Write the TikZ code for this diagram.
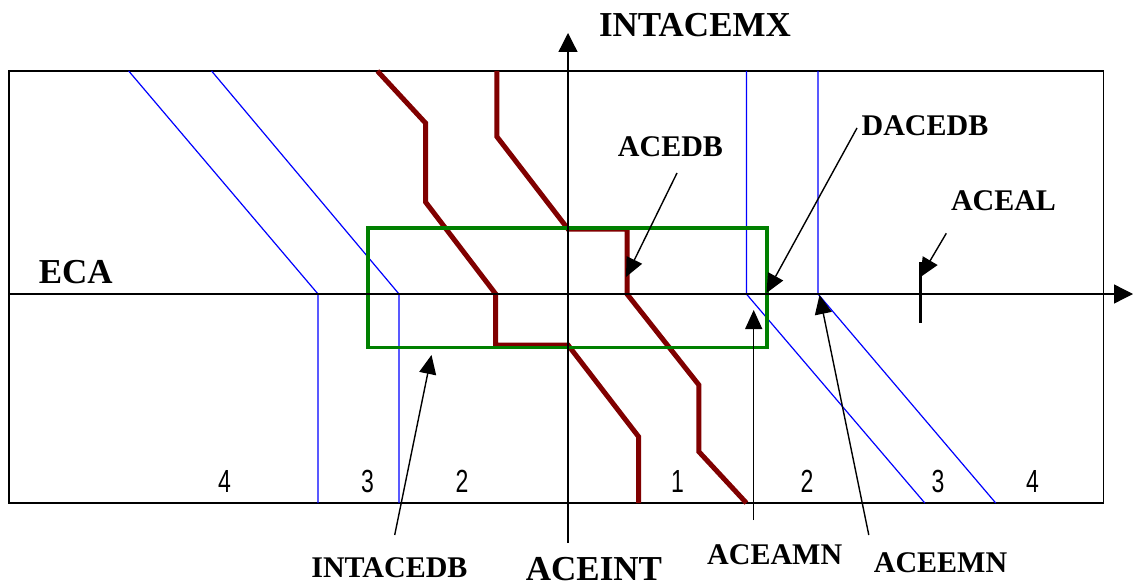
\documentclass[tikz,border=0pt]{standalone}
\usepackage{fontspec}
\setmainfont{Liberation Serif}
\newfontfamily\digitfont{Liberation Sans}
\usetikzlibrary{arrows.meta}
\definecolor{limitred}{RGB}{128,0,0}
\definecolor{boxgreen}{RGB}{0,128,0}
\begin{document}
\begin{tikzpicture}[x=1pt,y=-1pt,
  lab/.style={inner sep=0pt, font=\fontsize{30}{36}\selectfont\bfseries},
  biglab/.style={inner sep=0pt, font=\fontsize{35}{42}\selectfont\bfseries},
  num/.style={inner sep=0pt, font=\digitfont\fontsize{32}{38}\selectfont},
  ptr/.style={line width=1.4pt, -{Triangle[length=19pt,width=17pt]}},
  axisline/.style={line width=1.3pt, -{Triangle[length=19pt,width=19pt]}},
  frameline/.style={line width=1.9pt},
  zone/.style={draw=blue, line width=1.2pt},
  limit/.style={draw=limitred, line width=5pt, line join=miter},
  dbbox/.style={draw=boxgreen, line width=3.6pt}
]
\useasboundingbox (0,0) rectangle (1133,586);

% frame
\draw[frameline] (9,71) rectangle (1103.5,503);

% zone boundaries (blue)
\draw[zone] (128.7,71) -- (318,294) -- (318,503);
\draw[zone] (211.6,71) -- (399,294) -- (399,503);
\draw[zone] (746.4,71) -- (746.4,294) -- (924.8,503);
\draw[zone] (818,71) -- (818,294) -- (995.7,503);

% limits (dark red)
\draw[limit] (377.4,71) -- (425.5,123) -- (425.5,202) -- (495.7,294) -- (495.7,345) -- (568,345) -- (638.6,436.7) -- (638.6,503);
\draw[limit] (496.9,71) -- (496.9,136.7) -- (568,229) -- (627,229) -- (627,294) -- (698.9,385) -- (698.9,451.7) -- (746.4,503);

% dead band box
\draw[dbbox] (368,227.7) rectangle (767.2,347.3);

% axes
\coordinate (hx0) at (9,294);
\coordinate (hx1) at (1133,294);
\coordinate (vy0) at (568,543);
\coordinate (vy1) at (568,33);
\draw[axisline] (hx0) -- (hx1);
\draw[axisline] (vy0) -- (vy1);

% ACEAL tick
\coordinate (tick0) at (920.7,262);
\coordinate (tick1) at (920.7,323);
\draw[line width=3.5pt] (tick0) -- (tick1);

% labels
\node[biglab] (intacemx) at (695,25) {INTACEMX};
\node[biglab] (eca) at (75.8,272.5) {ECA};
\node[lab] (acedb) at (670.5,147) {ACEDB};
\node[lab] (dacedb) at (925,125.5) {DACEDB};
\node[lab] (aceal) at (1003.5,200.7) {ACEAL};
\node[lab] (intacedb) at (389.4,568) {INTACEDB};
\node[biglab] (aceint) at (594,569) {ACEINT};
\node[lab] (aceamn) at (774.7,554.5) {ACEAMN};
\node[lab] (aceemn) at (940.5,563) {ACEEMN};

% zone numbers
\node[num] (n4l) at (224.5,481.5) {\scalebox{0.72}[1]{4}};
\node[num] (n3l) at (367.5,481.5) {\scalebox{0.72}[1]{3}};
\node[num] (n2l) at (462,481.5) {\scalebox{0.72}[1]{2}};
\node[num] (n1) at (677.5,481.5) {\scalebox{0.72}[1]{1}};
\node[num] (n2r) at (807,481.5) {\scalebox{0.72}[1]{2}};
\node[num] (n3r) at (938,481.5) {\scalebox{0.72}[1]{3}};
\node[num] (n4r) at (1032.5,481.5) {\scalebox{0.72}[1]{4}};

% pointer arrows
\coordinate (acedbT) at (677,173);
\coordinate (acedbH) at (626,277);
\coordinate (dacedbT) at (857,128);
\coordinate (dacedbH) at (766.5,293);
\coordinate (acealT) at (946.3,233.3);
\coordinate (acealH) at (920.5,277);
\coordinate (intacedbT) at (394.7,535);
\coordinate (intacedbH) at (431.5,355);
\coordinate (aceamnT) at (753.7,520);
\coordinate (aceamnH) at (753.7,310);
\coordinate (aceemnT) at (868.8,535);
\coordinate (aceemnH) at (819.5,295);
\draw[ptr] (acedbT) -- (acedbH);
\draw[ptr] (dacedbT) -- (dacedbH);
\draw[ptr] (acealT) -- (acealH);
\draw[ptr] (intacedbT) -- (intacedbH);
\draw[ptr] (aceamnT) -- (aceamnH);
\draw[ptr] (aceemnT) -- (aceemnH);
\end{tikzpicture}
\end{document}
